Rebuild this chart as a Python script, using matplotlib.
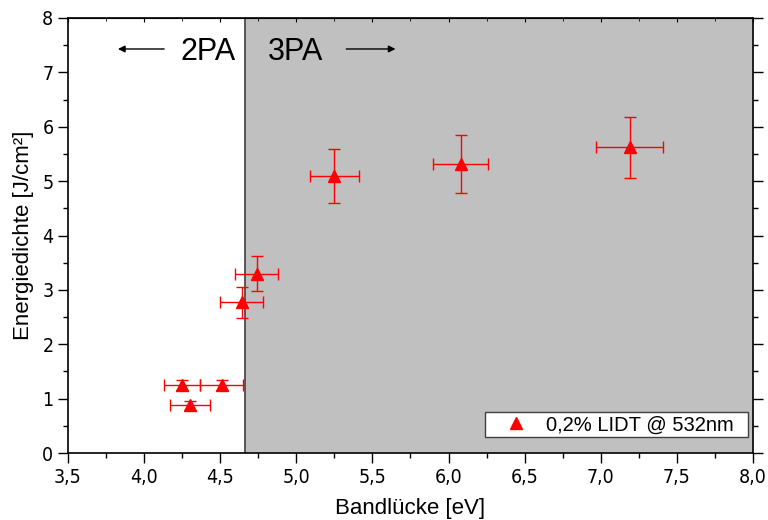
import matplotlib
matplotlib.use('Agg')
import matplotlib.pyplot as plt
from matplotlib.lines import Line2D
from matplotlib.ticker import MultipleLocator, FuncFormatter
from matplotlib import font_manager

# data
band_gap = [4.25, 4.51, 4.30, 4.64, 4.74, 5.25, 6.08, 7.19]
energy = [1.25, 1.25, 0.88, 2.77, 3.30, 5.09, 5.31, 5.62]
x_err = [0.12, 0.14, 0.13, 0.14, 0.14, 0.16, 0.18, 0.22]
y_err = [0.10, 0.10, 0.08, 0.28, 0.32, 0.50, 0.53, 0.56]
threshold = 4.66

plt.rcParams['font.family'] = ['Liberation Sans', 'DejaVu Sans']

names = {f.name for f in font_manager.fontManager.ttflist}
if 'Liberation Sans Narrow' in names:
    tick_font = dict(family='Liberation Sans Narrow')
else:
    tick_font = dict(family='DejaVu Sans', stretch='condensed')

fig = plt.figure(figsize=(7.68, 5.2), dpi=100)
ax = fig.add_axes([0.0885, 0.1288, 0.892, 0.8366])

ax.axvspan(threshold, 8.0, color='#c0c0c0', zorder=0)
ax.axvline(threshold, color='#404040', lw=1.2, zorder=1)

ax.errorbar(band_gap, energy, xerr=x_err, yerr=y_err, fmt='^', color='red',
            ms=8, ecolor='red', elinewidth=1, capsize=4, capthick=1, zorder=3)

ax.text(4.60, 7.38, '2PA', ha='right', va='center', fontsize=22)
ax.text(4.81, 7.38, '3PA', ha='left', va='center', fontsize=22)
ax.annotate('', xy=(3.81, 7.43), xytext=(4.15, 7.43),
            arrowprops=dict(arrowstyle='-|>', color='black', lw=1, mutation_scale=10))
ax.annotate('', xy=(5.67, 7.43), xytext=(5.31, 7.43),
            arrowprops=dict(arrowstyle='-|>', color='black', lw=1, mutation_scale=10))

ax.set_xlim(3.5, 8.0)
ax.set_ylim(0, 8)
ax.xaxis.set_major_locator(MultipleLocator(0.5))
ax.xaxis.set_minor_locator(MultipleLocator(0.25))
ax.yaxis.set_major_locator(MultipleLocator(1))
ax.yaxis.set_minor_locator(MultipleLocator(0.5))
ax.xaxis.set_major_formatter(FuncFormatter(lambda v, p: f'{v:.1f}'.replace('.', ',')))
ax.tick_params(which='major', direction='out', length=7, width=1, labelsize=14,
               right=True)
ax.tick_params(which='minor', direction='out', length=3.5, width=1, right=True)
for lab in ax.get_xticklabels() + ax.get_yticklabels():
    lab.set(**tick_font)

top = ax.secondary_xaxis('top')
top.xaxis.set_major_locator(MultipleLocator(0.5))
top.xaxis.set_minor_locator(MultipleLocator(0.25))
top.tick_params(which='major', direction='in', length=3, labeltop=False)
top.tick_params(which='minor', direction='in', length=2)

for s in ax.spines.values():
    s.set_linewidth(1.2)

ax.set_xlabel('Bandlücke [eV]', fontsize=16, labelpad=8)
ax.set_ylabel('Energiedichte [J/cm²]', fontsize=16, labelpad=6)

proxy = Line2D([], [], ls='none', marker='^', color='red', ms=8)
leg = ax.legend([proxy], ['0,2% LIDT @ 532nm  '], loc='lower right', fontsize=14.5,
                frameon=True, fancybox=False, edgecolor='#404040', framealpha=1,
                borderpad=0.15, handlelength=2.8, handletextpad=0.05,
                borderaxespad=0, bbox_to_anchor=(0.992, 0.036))
leg.get_frame().set_linewidth(1)

fig.savefig('out.png', dpi=100)
